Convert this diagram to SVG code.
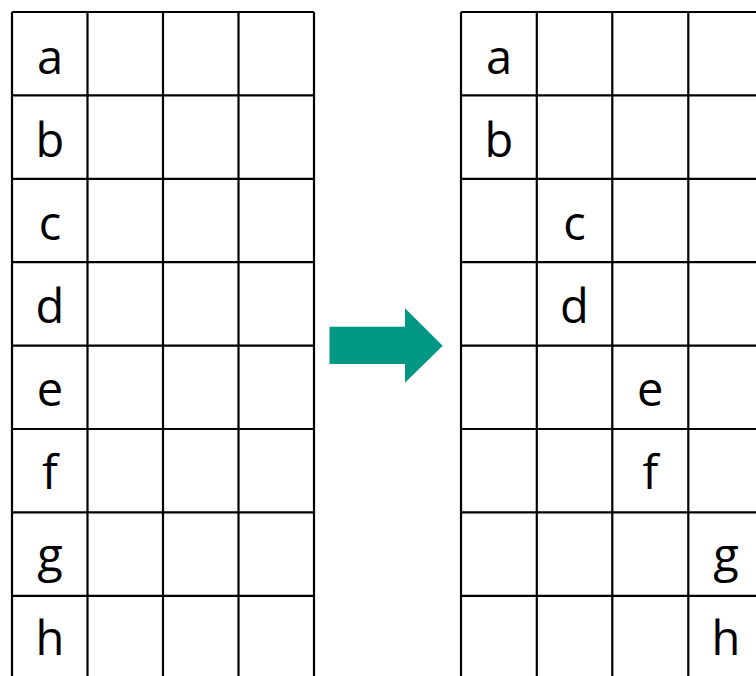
<svg xmlns="http://www.w3.org/2000/svg" width="756" height="676" viewBox="0 0 756 676">
<style>
.g{fill:none;stroke:#000;stroke-width:2.2}
.t{font-family:"Open Sans","Liberation Sans",sans-serif;font-size:47px;fill:#000;text-anchor:middle}
</style>
<rect width="756" height="676" fill="#fff"/>
<g id="left-grid">
<path class="g" d="M12,12V680M87.5,12V680M163,12V680M238.5,12V680M314,12V680M12,12H314M12,95.4H314M12,178.8H314M12,262.2H314M12,345.6H314M12,429H314M12,512.4H314M12,595.8H314"/>
<g id="L-a"><text class="t" x="50" y="73.5">a</text></g>
<g id="L-b"><text class="t" x="50" y="156.6">b</text></g>
<g id="L-c"><text class="t" x="50" y="239.7">c</text></g>
<g id="L-d"><text class="t" x="50" y="322.8">d</text></g>
<g id="L-e"><text class="t" x="50" y="405.9">e</text></g>
<g id="L-f"><text class="t" x="50" y="489">f</text></g>
<g id="L-g"><text class="t" x="50" y="572.1">g</text></g>
<g id="L-h"><text class="t" x="50" y="655.2">h</text></g>
</g>
<g id="connectors">
<polygon points="329.5,326.7 405,326.7 405,308.3 442.7,345.7 405,382.7 405,364 329.5,364" fill="#009784"/>
</g>
<g id="right-grid">
<path class="g" d="M461,12V680M536.8,12V680M612.3,12V680M688.3,12V680M764,12V680M461,12H764M461,95.4H764M461,178.8H764M461,262.2H764M461,345.6H764M461,429H764M461,512.4H764M461,595.8H764"/>
<g id="R-a"><text class="t" x="499" y="73.5">a</text></g>
<g id="R-b"><text class="t" x="499" y="156.6">b</text></g>
<g id="R-c"><text class="t" x="574.5" y="239.7">c</text></g>
<g id="R-d"><text class="t" x="574.5" y="322.8">d</text></g>
<g id="R-e"><text class="t" x="650.3" y="405.9">e</text></g>
<g id="R-f"><text class="t" x="650.3" y="489">f</text></g>
<g id="R-g"><text class="t" x="726" y="572.1">g</text></g>
<g id="R-h"><text class="t" x="726" y="655.2">h</text></g>
</g>
</svg>
